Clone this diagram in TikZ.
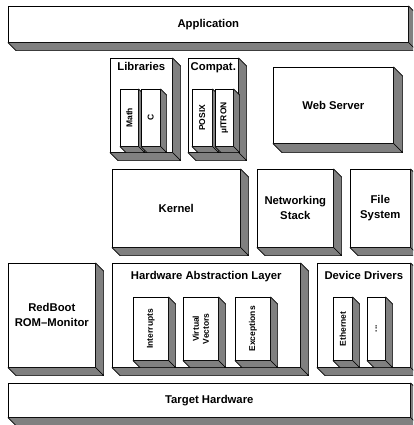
\documentclass[tikz,border=0pt]{standalone}
\usepackage{fontspec}
\setmainfont{Liberation Sans}
\usetikzlibrary{calc,positioning}
\tikzstyle{block}=[rectangle, draw=black, fill=white, inner sep=0pt, anchor=north west, line width=0.6pt, align=center, font=\fontsize{11.3}{15}\selectfont\bfseries]
\tikzstyle{shade}=[fill=black!50, draw=black, line width=0.6pt, line join=round]
\tikzstyle{annot}=[align=center, inner sep=2pt, font=\fontsize{11.3}{15}\selectfont\bfseries]
\tikzstyle{tag}=[align=center, rotate=90, inner sep=1pt, font=\fontsize{8.5}{10}\selectfont\bfseries]
% name, left, top, width, height, depth, text
\newcommand{\drawblock}[7]
{
  \node[block, minimum width=#4pt, minimum height=#5pt](#1) at (#2,#3){#7};
  \draw[shade] (#1.north east) -- ++(#6,#6) -- ($(#1.south east)+(#6,#6)$) -- (#1.south east) -- cycle;
  \draw[shade] (#1.south west) -- ++(#6,#6) -- ($(#1.south east)+(#6,#6)$) -- (#1.south east) -- cycle;
}

\begin{document}
\begin{tikzpicture}[x=1pt, y=-1pt]
	\fill[white] (0,0) rectangle (413,425);
	\path[use as bounding box, clip] (0,0) rectangle (413,425);

	\drawblock{app}{8}{6}{400}{36}{8}{Application}
	\drawblock{libs}{110}{58}{62}{94}{8}{}
	\drawblock{compat}{188}{58}{50}{94}{8}{}
	\drawblock{web}{273}{67}{120}{76}{9}{Web Server}
	\drawblock{kernel}{112}{169}{128}{78}{8}{Kernel}
	\drawblock{net}{257}{169}{76}{78}{8}{Networking\\Stack}
	\drawblock{fs}{350}{169}{60}{78}{8}{File\\System}
	\drawblock{redboot}{8}{263}{87}{104}{8}{RedBoot\\ROM–Monitor}
	\drawblock{hal}{112}{263}{188}{104}{8}{}
	\drawblock{drivers}{317}{263}{93}{104}{8}{}
	\drawblock{target}{8}{383}{402}{34}{8}{Target Hardware}

	%\node[annot, below=2pt of app.north] {Application};
	\node[annot, below=2pt of libs.north] (libs label) {Libraries};
	\node[annot, below=2pt of compat.north] (compat label) {Compat.};
	\node[annot, below=6pt of hal.north] (hal label) {Hardware Abstraction Layer};
	\node[annot, below=6pt of drivers.north] (drivers label) {Device Drivers};

	\drawblock{math}{120}{89}{18}{57}{6}{}
	\drawblock{clib}{141}{89}{19}{57}{6}{}
	\drawblock{posix}{192}{89}{20}{57}{6}{}
	\drawblock{itron}{215}{89}{18}{57}{6}{}
	\drawblock{irq}{133}{297}{35}{63}{7}{}
	\drawblock{vec}{183}{297}{35}{63}{7}{}
	\drawblock{exc}{235}{297}{35}{63}{7}{}
	\drawblock{eth}{333}{297}{19}{63}{7}{}
	\drawblock{more}{367}{297}{18}{63}{7}{}

	\node[tag] (math label) at (math.center) {Math};
	\node[tag] (clib label) at (clib.center) {C};
	\node[tag] (posix label) at (posix.center) {POSIX};
	\node[tag] (itron label) at (itron.center) {µITRON};
	\node[tag] (irq label) at (irq.center) {Interrupts};
	\node[tag] (vec label) at (vec.center) {Virtual\\Vectors};
	\node[tag] (exc label) at (exc.center) {Exceptions};
	\node[tag] (eth label) at (eth.center) {Ethernet};
	\node[tag] (more label) at (more.center) {...};

\end{tikzpicture}
\end{document}
